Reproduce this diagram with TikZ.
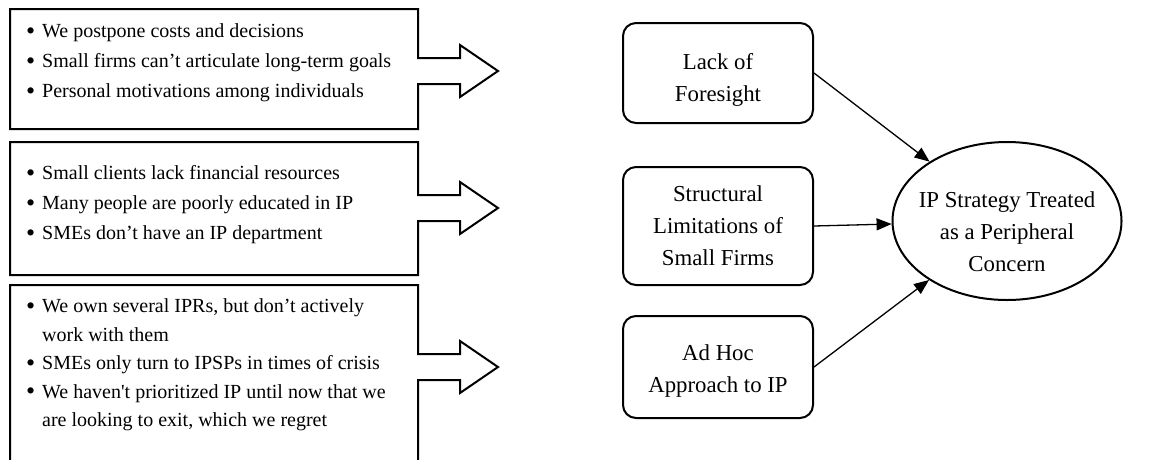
\documentclass[tikz,border=0pt]{standalone}
\usepackage{fontspec}
\setmainfont{Liberation Serif}[Ligatures=TeXOff]
\usetikzlibrary{arrows.meta,shapes.geometric}

% bullet with hanging indent for the list boxes
\newcommand{\bul}{\makebox[16pt][l]{\raisebox{-0.07em}{\scalebox{1.3}{\textbullet}}}}
\newcommand{\cont}{\hspace*{16pt}}

\begin{document}
\begin{tikzpicture}[x=1pt,y=-1pt,
  outline/.style={draw=black,line width=2pt,line join=miter},
  listtext/.style={anchor=west,inner sep=0pt,align=left,font=\fontsize{20}{30}\selectfont},
  factor/.style={draw=black,line width=2pt,rounded corners=13pt,minimum width=190pt,inner sep=0pt},
  label/.style={align=center,inner sep=0pt,font=\fontsize{22.8}{32}\selectfont},
  link/.style={line width=1.3pt,-{Triangle[length=15pt,width=12pt]}}
]
\useasboundingbox (0,0) rectangle (1150,459);
\clip (0,0) rectangle (1150,459);

% list boxes, each joined with its block arrow
\draw[outline] (10,9) -- (418,9) -- (418,58) -- (460,58) -- (460,45) -- (498,71)
  -- (460,97) -- (460,84) -- (418,84) -- (418,129) -- (10,129) -- cycle;
\draw[outline] (10,142) -- (418,142) -- (418,195) -- (460,195) -- (460,182) -- (498,208)
  -- (460,234) -- (460,221) -- (418,221) -- (418,275) -- (10,275) -- cycle;
\draw[outline] (10,470) -- (10,285) -- (418,285) -- (418,354) -- (460,354) -- (460,341)
  -- (498,367) -- (460,393) -- (460,380) -- (418,380) -- (418,470);

\node[listtext] (list1) at (26,63) {\bul We postpone costs and decisions\\
  \bul Small firms can’t articulate long-term goals\\
  \bul Personal motivations among individuals};
\node[listtext] (list2) at (26,205) {\bul Small clients lack financial resources\\
  \bul Many people are poorly educated in IP\\
  \bul SMEs don’t have an IP department};
\node[listtext,font=\fontsize{20}{28.5}\selectfont] (list3) at (26,365)
  {\bul We own several IPRs, but don’t actively\\
  \cont work with them\\
  \bul SMEs only turn to IPSPs in times of crisis\\
  \bul We haven't prioritized IP until now that we\\
  \cont are looking to exit, which we regret};

% themes
\node[factor,minimum height=100pt] (f1) at (718,73) {};
\node[label] (f1text) at (718,80) {Lack of\\Foresight};
\node[factor,minimum height=118pt] (f2) at (718,226) {};
\node[label] (f2text) at (718,226) {Structural\\Limitations of\\Small Firms};
\node[factor,minimum height=102pt] (f3) at (718,367) {};
\node[label] (f3text) at (718,371) {Ad Hoc\\Approach to IP};

% outcome
\node[draw=black,ellipse,line width=2pt,minimum width=229pt,minimum height=158pt,inner sep=0pt]
  (goal) at (1007,221) {};
\node[label] (goaltext) at (1007,232) {IP Strategy Treated\\as a Peripheral\\Concern};

\draw[link] (f1.east) -- (goal);
\draw[link] (f2.east) -- (goal);
\draw[link] (f3.east) -- (goal);
\end{tikzpicture}
\end{document}
